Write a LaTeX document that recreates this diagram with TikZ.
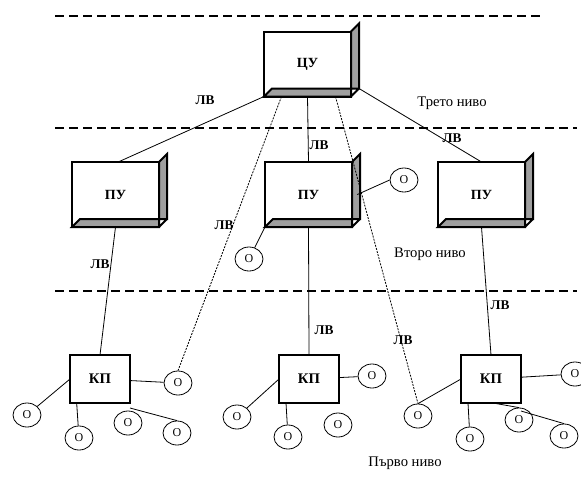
\documentclass[tikz,border=0pt]{standalone}
\usepackage{fontspec}
\setmainfont{Liberation Serif}
\usepackage{tikz}
\usetikzlibrary{shapes.geometric}

\begin{document}
\begin{tikzpicture}[x=0.75pt,y=0.75pt,yscale=-1,xscale=1,
  cube/.style={draw, line width=1.5pt, fill=white, outer sep=0pt, minimum width=65.25pt, minimum height=48.75pt, font=\fontsize{10.5}{12}\selectfont\bfseries},
  side/.style={draw, line width=1.5pt, fill=gray!75, line join=miter},
  kpbox/.style={draw, line width=1.5pt, fill=white, outer sep=0pt, minimum width=45pt, minimum height=36pt, font=\fontsize{11}{13}\selectfont\bfseries},
  obj/.style={draw, ellipse, line width=0.6pt, fill=white, minimum width=21pt, minimum height=18pt, inner sep=0pt, font=\fontsize{9}{10}\selectfont},
  link/.style={line width=0.6pt},
  dotlink/.style={line width=0.6pt, dash pattern=on 1.5pt off 0.9pt},
  level/.style={line width=1pt, dash pattern=on 6.75pt off 3.75pt},
  lv/.style={inner sep=0.75pt, font=\fontsize{10}{11}\selectfont\bfseries},
  txt/.style={inner sep=0.75pt, font=\fontsize{11}{13}\selectfont}
]
\useasboundingbox (0,0) rectangle (581,483);

%Straight Lines: levels
\draw [level] (55,16) -- (540,16) ;
\draw [level] (55,128) -- (577,128) ;
\draw [level] (55,291) -- (577,291) ;

%Shape: Cube
\draw (307.5,64) node [cube] (cu) {ЦУ};
%Shape: Cube
\draw (115.5,194.5) node [cube] (pu1) {ПУ};
%Shape: Cube
\draw (308.5,194.5) node [cube] (pu2) {ПУ};
%Shape: Cube
\draw (481.5,194.5) node [cube] (pu3) {ПУ};
\foreach \b in {cu,pu1,pu2,pu3}
  \draw [side] (\b.north east) -- ([xshift=6pt,yshift=-6pt]\b.north east) -- ([xshift=6pt,yshift=-6pt]\b.south east) -- ([xshift=6pt,yshift=-6pt]\b.south west) -- (\b.south west) -- (\b.south east) -- cycle (\b.south east) -- ([xshift=6pt,yshift=-6pt]\b.south east) ;

%Shape: Rectangle
\draw (100,379) node [kpbox] (kp1) {КП};
%Shape: Rectangle
\draw (309,379) node [kpbox] (kp2) {КП};
%Shape: Rectangle
\draw (491,379) node [kpbox] (kp3) {КП};

%Shape: Ellipse
\draw (178,383) node [obj] (o1) {О};
\draw (27,415) node [obj] (o2) {О};
\draw (79,438) node [obj] (o3) {О};
\draw (128,423) node [obj] (o4) {О};
\draw (177,433) node [obj] (o5) {О};
\draw (372,376) node [obj] (o6) {О};
\draw (237,417) node [obj] (o7) {О};
\draw (288,437) node [obj] (o8) {О};
\draw (338,425) node [obj] (o9) {О};
\draw (575,374) node [obj] (o10) {О};
\draw (418,416) node [obj] (o11) {О};
\draw (470,439) node [obj] (o12) {О};
\draw (519,420) node [obj] (o13) {О};
\draw (564,436) node [obj] (o14) {О};
\draw (404,180) node [obj] (o15) {О};
\draw (249,259) node [obj] (o16) {О};

%Straight Lines
\draw [link] (cu.south west) -- ([xshift=2pt]pu1.north) ;
\draw [link] (cu.south) -- (pu2.north) ;
\draw [link] ([xshift=6pt,yshift=-6pt]cu.south east) -- (pu3.north) ;
\draw [dotlink] ([xshift=-19.5pt]cu.south) -- (o1.north) ;
\draw [dotlink] ([xshift=21pt]cu.south) -- (o11.north) ;
\draw [link] (pu1.south) -- (kp1.north) ;
\draw [link] (pu2.south) -- (kp2.north) ;
\draw [link] (pu3.south) -- (kp3.north) ;
\draw [link] ([xshift=4pt]pu2.east) -- (o15.west) ;
\draw [link] (pu2.south west) -- (o16) ;
%Straight Lines
\draw [link] (kp1) -- (o1) ;
\draw [link] (kp1.west) -- (o2) ;
\draw [link] ([xshift=5pt]kp1.south west) -- (o3) ;
\draw [link] ([yshift=3.75pt]kp1.south east) -- (o5.north) ;
\draw [link] (kp2) -- (o6) ;
\draw [link] (kp2.west) -- (o7) ;
\draw [link] ([xshift=5.25pt]kp2.south west) -- (o8) ;
\draw [link] (kp3) -- (o10) ;
\draw [link] (kp3.west) -- (o11.north) ;
\draw [link] ([xshift=5.25pt]kp3.south west) -- (o12) ;
\draw [link] ([xshift=24pt]kp3.south west) -- (o13.north) ;
\draw [link] ([yshift=6pt]kp3.south east) -- (o14.north) ;

% Text Node
\draw (205,100) node [lv] (lv1) {ЛВ};
\draw (319,145) node [lv] (lv2) {ЛВ};
\draw (452,138) node [lv] (lv3) {ЛВ};
\draw (224,225) node [lv] (lv4) {ЛВ};
\draw (100,264) node [lv] (lv5) {ЛВ};
\draw (324,330) node [lv] (lv6) {ЛВ};
\draw (403,340) node [lv] (lv7) {ЛВ};
\draw (500,305) node [lv] (lv8) {ЛВ};
% Text Node
\draw (452,103) node [txt] (t3) {Трето ниво};
\draw (430,254) node [txt] (t2) {Второ ниво};
\draw (405,463) node [txt] (t1) {Първо ниво};

\end{tikzpicture}
\end{document}
